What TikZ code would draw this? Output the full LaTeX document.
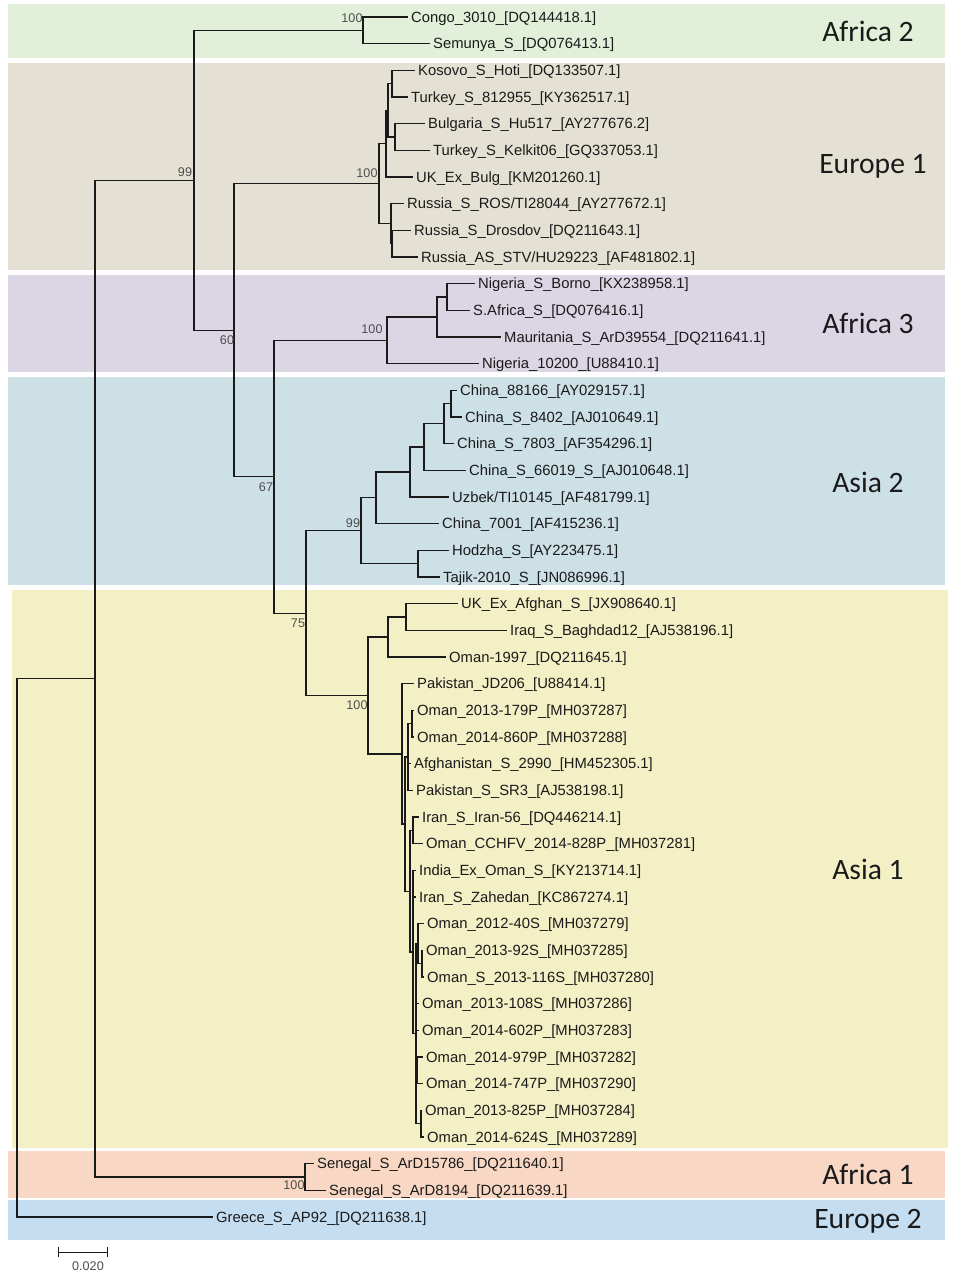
\documentclass[tikz,border=0pt]{standalone}
\usepackage{fontspec}
\setmainfont{Liberation Sans}
\newfontfamily\regionfont{Carlito}
\definecolor{bafA}{HTML}{E2F0D9}
\definecolor{beuA}{HTML}{E4E1D4}
\definecolor{bafC}{HTML}{DCD6E4}
\definecolor{basB}{HTML}{CCE0E6}
\definecolor{basA}{HTML}{F2F0C4}
\definecolor{bafB}{HTML}{F8D8C4}
\definecolor{beuB}{HTML}{C5DDF0}
\definecolor{linec}{HTML}{1A1A1A}
\definecolor{txt}{HTML}{1A1A1A}
\definecolor{bootc}{HTML}{4D4D4D}
\tikzset{
  branch/.style={line width=1.2pt, draw=linec},
  leaf/.style={anchor=west, inner xsep=3pt, inner ysep=0pt, text height=10.6pt, text depth=0pt, font=\fontsize{14.8}{16}\selectfont, text=txt},
  boot/.style={inner sep=0pt, text height=9pt, text depth=0pt, font=\fontsize{12.6}{14}\selectfont, text=bootc},
  region/.style={inner sep=0pt, text height=19pt, text depth=0pt, font=\regionfont\fontsize{29.6}{32}\selectfont, text=txt},
}
\begin{document}
\begin{tikzpicture}[x=1pt,y=-1pt]
\useasboundingbox (0,0) rectangle (980,1280);
% bands
\fill[bafA] (8,4) rectangle (945,58);
\fill[beuA] (8,63) rectangle (945,270);
\fill[bafC] (8,275) rectangle (945,372);
\fill[basB] (8,377) rectangle (945,585);
\fill[basA] (12,590) rectangle (948,1148);
\fill[bafB] (8,1151) rectangle (945,1198);
\fill[beuB] (8,1200) rectangle (945,1240);
% region labels
\node[region] (rA2) at (868,32) {Africa 2};
\node[region] (rE1) at (873,164) {Europe 1};
\node[region] (rA3) at (868,324) {Africa 3};
\node[region] (rS2) at (868,483) {Asia 2};
\node[region] (rS1) at (868,870) {Asia 1};
\node[region] (rA1) at (868,1175) {Africa 1};
\node[region] (rE2) at (868,1219) {Europe 2};
% leaves
\node[leaf] (L1) at (408,17) {Congo\_3010\_[DQ144418.1]};
\node[leaf] (L2) at (430,43.67) {Semunya\_S\_[DQ076413.1]};
\node[leaf] (L3) at (415,70.33) {Kosovo\_S\_Hoti\_[DQ133507.1]};
\node[leaf] (L4) at (408,97) {Turkey\_S\_812955\_[KY362517.1]};
\node[leaf] (L5) at (425,123.67) {Bulgaria\_S\_Hu517\_[AY277676.2]};
\node[leaf] (L6) at (430,150.33) {Turkey\_S\_Kelkit06\_[GQ337053.1]};
\node[leaf] (L7) at (413,177) {UK\_Ex\_Bulg\_[KM201260.1]};
\node[leaf] (L8) at (404,203.67) {Russia\_S\_ROS/TI28044\_[AY277672.1]};
\node[leaf] (L9) at (411,230.33) {Russia\_S\_Drosdov\_[DQ211643.1]};
\node[leaf] (L10) at (418,257) {Russia\_AS\_STV/HU29223\_[AF481802.1]};
\node[leaf] (L11) at (475,283.67) {Nigeria\_S\_Borno\_[KX238958.1]};
\node[leaf] (L12) at (470,310.33) {S.Africa\_S\_[DQ076416.1]};
\node[leaf] (L13) at (501,337) {Mauritania\_S\_ArD39554\_[DQ211641.1]};
\node[leaf] (L14) at (479,363.67) {Nigeria\_10200\_[U88410.1]};
\node[leaf] (L15) at (457,390.33) {China\_88166\_[AY029157.1]};
\node[leaf] (L16) at (462,417) {China\_S\_8402\_[AJ010649.1]};
\node[leaf] (L17) at (454,443.67) {China\_S\_7803\_[AF354296.1]};
\node[leaf] (L18) at (466,470.33) {China\_S\_66019\_S\_[AJ010648.1]};
\node[leaf] (L19) at (449,497) {Uzbek/TI10145\_[AF481799.1]};
\node[leaf] (L20) at (439,523.67) {China\_7001\_[AF415236.1]};
\node[leaf] (L21) at (449,550.33) {Hodzha\_S\_[AY223475.1]};
\node[leaf] (L22) at (440,577) {Tajik-2010\_S\_[JN086996.1]};
\node[leaf] (L23) at (458,603.67) {UK\_Ex\_Afghan\_S\_[JX908640.1]};
\node[leaf] (L24) at (507,630.33) {Iraq\_S\_Baghdad12\_[AJ538196.1]};
\node[leaf] (L25) at (446,657) {Oman-1997\_[DQ211645.1]};
\node[leaf] (L26) at (414,683.67) {Pakistan\_JD206\_[U88414.1]};
\node[leaf] (L27) at (414,710.33) {Oman\_2013-179P\_[MH037287]};
\node[leaf] (L28) at (414,737) {Oman\_2014-860P\_[MH037288]};
\node[leaf] (L29) at (411,763.67) {Afghanistan\_S\_2990\_[HM452305.1]};
\node[leaf] (L30) at (413,790.33) {Pakistan\_S\_SR3\_[AJ538198.1]};
\node[leaf] (L31) at (419,817) {Iran\_S\_Iran-56\_[DQ446214.1]};
\node[leaf] (L32) at (423,843.67) {Oman\_CCHFV\_2014-828P\_[MH037281]};
\node[leaf] (L33) at (416,870.33) {India\_Ex\_Oman\_S\_[KY213714.1]};
\node[leaf] (L34) at (416,897) {Iran\_S\_Zahedan\_[KC867274.1]};
\node[leaf] (L35) at (424,923.67) {Oman\_2012-40S\_[MH037279]};
\node[leaf] (L36) at (423,950.33) {Oman\_2013-92S\_[MH037285]};
\node[leaf] (L37) at (424,977) {Oman\_S\_2013-116S\_[MH037280]};
\node[leaf] (L38) at (419,1003.67) {Oman\_2013-108S\_[MH037286]};
\node[leaf] (L39) at (419,1030.33) {Oman\_2014-602P\_[MH037283]};
\node[leaf] (L40) at (423,1057) {Oman\_2014-979P\_[MH037282]};
\node[leaf] (L41) at (423,1083.67) {Oman\_2014-747P\_[MH037290]};
\node[leaf] (L42) at (422,1110.33) {Oman\_2013-825P\_[MH037284]};
\node[leaf] (L43) at (424,1137) {Oman\_2014-624S\_[MH037289]};
\node[leaf] (L44) at (314,1163.67) {Senegal\_S\_ArD15786\_[DQ211640.1]};
\node[leaf] (L45) at (326,1190.33) {Senegal\_S\_ArD8194\_[DQ211639.1]};
\node[leaf] (L46) at (213,1217) {Greece\_S\_AP92\_[DQ211638.1]};
% internal nodes
\coordinate (nC) at (363,30.33);
\coordinate (nKT) at (392,83.67);
\coordinate (nBK) at (395,137);
\coordinate (nC1) at (388,110.33);
\coordinate (nD) at (386,143.67);
\coordinate (nDR) at (392,243.67);
\coordinate (nR) at (391,223.67);
\coordinate (nEu) at (379,183.67);
\coordinate (nBS) at (447,297);
\coordinate (nBSM) at (437,317);
\coordinate (nAf3) at (387,340.33);
\coordinate (nCh1) at (451,403.67);
\coordinate (nCh2) at (444,423.67);
\coordinate (nCh3) at (424,447);
\coordinate (nCh4) at (410,472);
\coordinate (nCh5) at (376,497.83);
\coordinate (nHT) at (418,563.67);
\coordinate (nAs2) at (361,530.75);
\coordinate (nUI) at (406,617);
\coordinate (nUIO) at (388,637);
\coordinate (nS) at (412,723.67);
\coordinate (nR2) at (408,757);
\coordinate (nTa) at (413,830.33);
\coordinate (nV) at (422,963.67);
\coordinate (nZ1) at (418,943.67);
\coordinate (nZ3) at (417,1070.33);
\coordinate (nW) at (421,1123.67);
\coordinate (nY) at (416,1033.67);
\coordinate (nTb) at (413,952);
\coordinate (nT) at (410,891.17);
\coordinate (nQ) at (405,824.08);
\coordinate (nP) at (402,753.9);
\coordinate (nAs1) at (368,695.4);
\coordinate (n75) at (306,613.1);
\coordinate (n67) at (274,476.7);
\coordinate (n234) at (234,330.2);
\coordinate (n194) at (194,180.3);
\coordinate (nSen) at (305,1177);
\coordinate (n95) at (95,678.6);
\coordinate (root) at (17,947.8);
% branches
\begin{scope}[branch]
\draw (root) |- (n95); \draw (root) |- (L46.west);
\draw (n95) |- (n194); \draw (n95) |- (nSen);
\draw (nSen) |- (L44.west); \draw (nSen) |- (L45.west);
\draw (n194) |- (nC); \draw (n194) |- (n234);
\draw (nC) |- (L1.west); \draw (nC) |- (L2.west);
\draw (n234) |- (nEu); \draw (n234) |- (n67);
\draw (nEu) |- (nD); \draw (nEu) |- (nR);
\draw (nD) |- (nC1); \draw (nD) |- (L7.west);
\draw (nC1) |- (nKT); \draw (nC1) |- (nBK);
\draw (nKT) |- (L3.west); \draw (nKT) |- (L4.west);
\draw (nBK) |- (L5.west); \draw (nBK) |- (L6.west);
\draw (nR) |- (L8.west); \draw (nR) |- (nDR);
\draw (nDR) |- (L9.west); \draw (nDR) |- (L10.west);
\draw (n67) |- (nAf3); \draw (n67) |- (n75);
\draw (nAf3) |- (nBSM); \draw (nAf3) |- (L14.west);
\draw (nBSM) |- (nBS); \draw (nBSM) |- (L13.west);
\draw (nBS) |- (L11.west); \draw (nBS) |- (L12.west);
\draw (n75) |- (nAs2); \draw (n75) |- (nAs1);
\draw (nAs2) |- (nCh5); \draw (nAs2) |- (nHT);
\draw (nHT) |- (L21.west); \draw (nHT) |- (L22.west);
\draw (nCh5) |- (nCh4); \draw (nCh5) |- (L20.west);
\draw (nCh4) |- (nCh3); \draw (nCh4) |- (L19.west);
\draw (nCh3) |- (nCh2); \draw (nCh3) |- (L18.west);
\draw (nCh2) |- (nCh1); \draw (nCh2) |- (L17.west);
\draw (nCh1) |- (L15.west); \draw (nCh1) |- (L16.west);
\draw (nAs1) |- (nUIO); \draw (nAs1) |- (nP);
\draw (nUIO) |- (nUI); \draw (nUIO) |- (L25.west);
\draw (nUI) |- (L23.west); \draw (nUI) |- (L24.west);
\draw (nP) |- (L26.west); \draw (nP) |- (nQ);
\draw (nQ) |- (nR2); \draw (nQ) |- (nT);
\draw (nR2) |- (nS); \draw (nR2) |- (L29.west); \draw (nR2) |- (L30.west);
\draw (nS) |- (L27.west); \draw (nS) |- (L28.west);
\draw (nT) |- (nTa); \draw (nT) |- (nTb);
\draw (nTa) |- (L31.west); \draw (nTa) |- (L32.west);
\draw (nTb) |- (L33.west); \draw (nTb) |- (L34.west); \draw (nTb) |- (nY);
\draw (nY) |- (nZ1); \draw (nY) |- (L38.west); \draw (nY) |- (L39.west); \draw (nY) |- (nZ3); \draw (nY) |- (nW);
\draw (nZ1) |- (L35.west); \draw (nZ1) |- (nV);
\draw (nV) |- (L36.west); \draw (nV) |- (L37.west);
\draw (nZ3) |- (L40.west); \draw (nZ3) |- (L41.west);
\draw (nW) |- (L42.west); \draw (nW) |- (L43.west);
\end{scope}
% bootstrap values
\node[boot] (b1) at (352,18) {100};
\node[boot] (b2) at (185,172) {99};
\node[boot] (b3) at (367,173) {100};
\node[boot] (b4) at (227,340) {60};
\node[boot] (b5) at (372,329) {100};
\node[boot] (b6) at (266,487) {67};
\node[boot] (b7) at (353,523) {99};
\node[boot] (b8) at (298,623) {75};
\node[boot] (b9) at (357,705) {100};
\node[boot] (b10) at (294,1185) {100};
% scale bar
\coordinate (sbA) at (58,1252);
\coordinate (sbB) at (107,1252);
\draw[line width=1pt, draw=linec] (sbA) -- (sbB);
\draw[line width=1pt, draw=linec] ([yshift=-5pt]sbA) -- ([yshift=5pt]sbA);
\draw[line width=1pt, draw=linec] ([yshift=-5pt]sbB) -- ([yshift=5pt]sbB);
\node[boot] (sbl) at (88,1266) {0.020};
\end{tikzpicture}
\end{document}
